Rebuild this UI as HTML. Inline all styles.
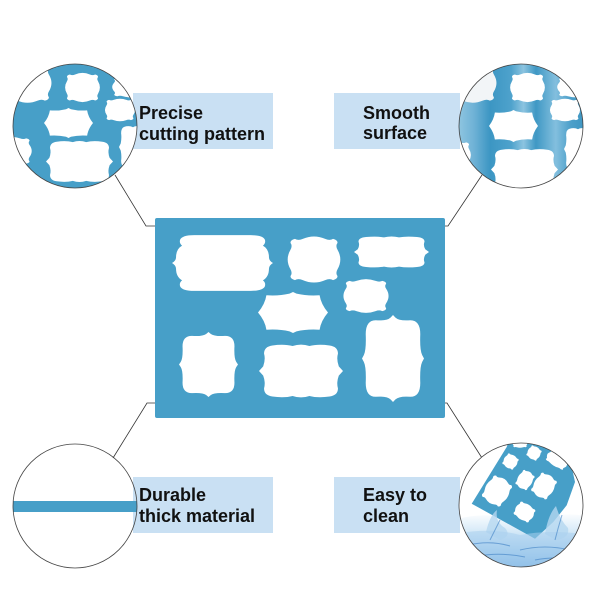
<!DOCTYPE html>
<html><head><meta charset="utf-8"><style>
html,body{margin:0;padding:0;background:#fff;}
svg{display:block;}
text{font-family:"Liberation Sans",Arial,sans-serif;font-weight:bold;font-size:18px;fill:#111;}
</style></head><body>
<svg width="600" height="600" viewBox="0 0 600 600" xmlns="http://www.w3.org/2000/svg">
<defs>
<symbol id="P" viewBox="0 0 100 100" preserveAspectRatio="none"><path d="M12,8 Q30,10 45,4 L50,0 L55,4 Q70,10 88,8 Q90,30 100,50 Q90,70 88,92 Q70,90 55,96 L50,100 L45,96 Q30,90 12,92 Q10,70 0,50 Q10,30 12,8 Z"/></symbol>
<symbol id="B" viewBox="0 0 100 100" preserveAspectRatio="none"><path d="M30,8 Q50,-2 70,8 Q78,12 84,8 Q92,10 92,16 Q88,22 92,30 Q102,50 92,70 Q88,78 92,84 Q92,90 84,92 Q78,88 70,92 Q50,102 30,92 Q22,88 16,92 Q8,90 8,84 Q12,78 8,70 Q-2,50 8,30 Q12,22 8,16 Q8,10 16,8 Q22,12 30,8 Z"/></symbol>
<symbol id="R" viewBox="0 0 100 100" preserveAspectRatio="none"><path d="M22,2 L78,2 Q90,2 92,10 Q93,16 90,20 Q96,26 96,40 Q96,46 100,50 Q96,54 96,60 Q96,74 90,80 Q93,84 92,90 Q90,98 78,98 L22,98 Q10,98 8,90 Q7,84 10,80 Q4,74 4,60 Q4,54 0,50 Q4,46 4,40 Q4,26 10,20 Q7,16 8,10 Q10,2 22,2 Z"/></symbol>
<symbol id="T" viewBox="0 0 100 100" preserveAspectRatio="none"><path d="M22,6 Q40,7 46,3 L50,0 L54,3 Q60,7 78,6 Q94,6 94,22 Q93,40 97,46 L100,50 L97,54 Q93,60 94,78 Q94,94 78,94 Q60,93 54,97 L50,100 L46,97 Q40,93 22,94 Q6,94 6,78 Q7,60 3,54 L0,50 L3,46 Q7,40 6,22 Q6,6 22,6 Z"/></symbol>
<symbol id="W" viewBox="0 0 100 100" preserveAspectRatio="none"><path d="M16,6 Q30,3 40,7 Q50,2 60,7 Q70,3 84,6 Q94,8 94,20 Q92,30 95,42 L100,50 L95,58 Q92,70 94,80 Q94,92 84,94 Q70,97 60,93 Q50,98 40,93 Q30,97 16,94 Q6,92 6,80 Q8,70 5,58 L0,50 L5,42 Q8,30 6,20 Q6,8 16,6 Z"/></symbol>
<clipPath id="cTL"><circle cx="75" cy="126" r="62"/></clipPath>
<clipPath id="cTR"><circle cx="521" cy="126" r="62"/></clipPath>
<clipPath id="cBL"><circle cx="75" cy="506" r="62"/></clipPath>
<clipPath id="cBR"><circle cx="521" cy="505" r="62"/></clipPath>
<linearGradient id="gTR" x1="459" y1="0" x2="583" y2="0" gradientUnits="userSpaceOnUse">
<stop offset="0" stop-color="#8ec5e0"/><stop offset="0.12" stop-color="#6fb2d6"/><stop offset="0.25" stop-color="#3c96c3"/><stop offset="0.42" stop-color="#4ea2cc"/><stop offset="0.52" stop-color="#8cc4e0"/><stop offset="0.62" stop-color="#3f98c4"/><stop offset="0.78" stop-color="#83bfde"/><stop offset="0.9" stop-color="#4da0ca"/><stop offset="1" stop-color="#3f97c3"/>
</linearGradient>
<linearGradient id="gW" x1="0" y1="512" x2="0" y2="568" gradientUnits="userSpaceOnUse">
<stop offset="0" stop-color="#ffffff"/><stop offset="0.3" stop-color="#dcedf9"/><stop offset="0.7" stop-color="#9fcaec"/><stop offset="1" stop-color="#74ade0"/>
</linearGradient>
</defs>

<!-- label boxes -->
<rect x="133" y="93" width="140" height="56" fill="#c9e0f3"/>
<rect x="334" y="93" width="126" height="56" fill="#c9e0f3"/>
<rect x="133" y="477" width="140" height="56" fill="#c9e0f3"/>
<rect x="334" y="477" width="126" height="56" fill="#c9e0f3"/>

<!-- connectors -->
<g fill="none" stroke="#333" stroke-width="0.8">
<polyline points="115,175 146,226 155,226"/>
<polyline points="482,175 448,226 445,226"/>
<polyline points="113,458 147,403 155,403"/>
<polyline points="482,458 447,403 445,403"/>
</g>

<!-- main stencil -->
<rect x="155" y="218" width="290" height="200" rx="2" fill="#479fc8"/>
<g fill="#fff">
<use href="#R" x="172" y="234" width="101" height="58"/>
<use href="#B" x="286" y="235" width="56" height="49"/>
<use href="#W" x="354" y="235" width="75" height="34"/>
<use href="#B" x="342" y="278" width="48" height="36"/>
<use href="#P" x="258" y="292" width="70" height="41"/>
<use href="#T" x="179" y="332" width="59" height="65"/>
<use href="#W" x="259" y="342" width="84" height="58"/>
<use href="#T" x="362" y="315" width="62" height="87"/>
</g>

<!-- top-left circle -->
<g clip-path="url(#cTL)">
<rect x="10" y="60" width="130" height="130" fill="#479fc8"/>
<g fill="#fff">
<use href="#B" x="2" y="62" width="51" height="42"/>
<use href="#B" x="64" y="72" width="37" height="31"/>
<use href="#B" x="111" y="76" width="40" height="22"/>
<use href="#B" x="104" y="98" width="32" height="24"/>
<use href="#P" x="44" y="108" width="49" height="30"/>
<use href="#W" x="46" y="139" width="67" height="45"/>
<use href="#B" x="-10" y="136" width="43" height="30"/>
<use href="#W" x="119" y="124" width="35" height="46"/>
</g>
</g>

<!-- top-right circle -->
<g clip-path="url(#cTR)">
<rect x="455" y="60" width="135" height="135" fill="url(#gTR)"/>
<g fill="#fff">
<use href="#B" x="447" y="62" width="51" height="42" fill="#f2f5f7"/>
<use href="#B" x="509" y="72" width="37" height="31"/>
<use href="#B" x="556" y="76" width="40" height="22"/>
<use href="#B" x="549" y="98" width="32" height="24"/>
<use href="#P" x="489" y="110" width="49" height="32"/>
<use href="#W" x="491" y="147" width="67" height="45"/>
<use href="#B" x="435" y="140" width="37" height="30"/>
<use href="#W" x="564" y="126" width="35" height="46"/>
</g>
</g>

<!-- bottom-left circle -->
<g clip-path="url(#cBL)">
<rect x="10" y="501" width="130" height="11" fill="#479fc8"/>
</g>

<!-- bottom-right circle -->
<g clip-path="url(#cBR)">
<rect x="455" y="440" width="135" height="135" fill="#fff"/>
<path d="M455,520 Q480,512 505,518 Q530,510 555,516 Q575,512 590,518 L590,575 L455,575 Z" fill="url(#gW)"/>
<path d="M471.7,503.7 L506.7,447 L512,432 L560,432 L570,458.7 L575,482 L566.7,505.3 L553.3,522 L535,538.7 Z" fill="#479fc8"/>
<g fill="#fff">
<use href="#B" x="503" y="454" width="15" height="15" transform="rotate(32 510.5 461.5)"/>
<use href="#B" x="527" y="446" width="14" height="14" transform="rotate(32 534 453)"/>
<use href="#B" x="545" y="453" width="24" height="14" transform="rotate(32 557 460)"/>
<use href="#B" x="517" y="470" width="16" height="20" transform="rotate(32 525 480)"/>
<use href="#B" x="533" y="473" width="22" height="26" transform="rotate(32 544 486)"/>
<use href="#B" x="484" y="476" width="26" height="30" transform="rotate(32 497 491)"/>
<use href="#B" x="514" y="503" width="21" height="18" transform="rotate(32 524.5 512)"/>
<use href="#B" x="512" y="438" width="16" height="10"/>
</g>
<g fill="#b5d7f0" opacity="0.8">
<path d="M486,532 Q490,515 497,510 Q495,522 505,528 Q512,536 500,540 Z"/>
<path d="M545,534 Q548,515 556,506 Q560,520 568,528 Q570,538 556,540 Z"/>
</g>
<path d="M455,534 Q490,527 520,535 Q550,529 590,535 L590,575 L455,575 Z" fill="#a9d0ef" opacity="0.55"/>
<g stroke="#3d7fc4" stroke-width="1" fill="none" opacity="0.6">
<path d="M468,545 Q490,540 510,546"/>
<path d="M520,550 Q545,544 570,550"/>
<path d="M478,556 Q500,552 525,557"/>
<path d="M535,560 Q555,556 575,560"/>
<path d="M490,540 Q496,528 500,520"/>
<path d="M555,540 Q558,528 562,515"/>
</g>
</g>

<!-- circle borders -->
<g fill="none" stroke="#444" stroke-width="0.8">
<circle cx="75" cy="126" r="62"/>
<circle cx="521" cy="126" r="62"/>
<circle cx="75" cy="506" r="62"/>
<circle cx="521" cy="505" r="62"/>
</g>

<!-- labels -->
<text x="139" y="119">Precise</text>
<text x="139" y="140">cutting pattern</text>
<text x="363" y="119">Smooth</text>
<text x="363" y="139">surface</text>
<text x="139" y="501">Durable</text>
<text x="139" y="522">thick material</text>
<text x="363" y="501">Easy to</text>
<text x="363" y="522">clean</text>
</svg>
</body></html>
